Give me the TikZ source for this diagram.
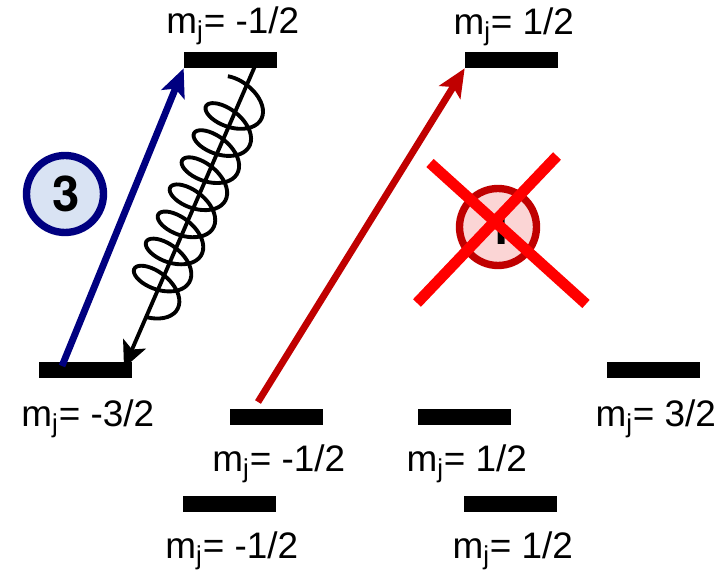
\documentclass[tikz,border=0pt]{standalone}
\usepackage{fontspec}
\setmainfont{Liberation Sans}
\newfontfamily\stepfont{TeX Gyre Heros}
\usetikzlibrary{arrows.meta,positioning}
\definecolor{lineblue}{RGB}{0,0,128}
\definecolor{linered}{RGB}{192,0,0}
\definecolor{fillblue}{RGB}{217,227,243}
\definecolor{fillred}{RGB}{251,213,213}
\tikzset{
  level/.style={
    rectangle,
    fill=black,
    inner sep=0pt,
    minimum width=1.86cm,
    minimum height=0.32cm
  },
  statelabel/.style={
    font=\fontsize{21}{25}\selectfont,
    inner sep=0pt,
    xshift=1.3pt
  },
  stepcircle/.style={
    circle,
    line width=4.2pt,
    minimum size=1.54cm,
    inner sep=0pt,
    font=\fontsize{28}{32}\selectfont\stepfont\bfseries
  },
  pumpblue/.style={-{Stealth[length=16pt,width=14pt,inset=3.5pt]}, line width=3.9pt, lineblue},
  pumpred/.style={-{Stealth[length=16pt,width=14pt,inset=3.5pt]}, line width=3.9pt, linered},
  decay/.style={-{Stealth[length=15pt,width=14pt,inset=3.5pt]}, line width=2.2pt, black},
  cross/.style={line width=6.2pt, red}
}
\begin{document}
\begin{tikzpicture}[x=0.02cm,y=-0.02cm]
\useasboundingbox (0,0) rectangle (716,573);
% excited states
\node[level] (e1) at (230.5,60) {};
\node[level] (e2) at (511.5,60) {};
\node[statelabel, above=3.5pt of e1] (le1) {m\textsubscript{j}= -1/2};
\node[statelabel, above=3pt of e2] (le2) {m\textsubscript{j}= 1/2};
% ground states
\node[level] (g1) at (85.5,370) {};
\node[level] (g2) at (276.5,417) {};
\node[level] (g3) at (464.5,417) {};
\node[level] (g4) at (653.5,370) {};
\node[level] (g5) at (229.5,504) {};
\node[level] (g6) at (510.5,504) {};
\node[statelabel, below=12pt of g1] (lg1) {m\textsubscript{j}= -3/2};
\node[statelabel, below=11pt of g2] (lg2) {m\textsubscript{j}= -1/2};
\node[statelabel, below=11pt of g3] (lg3) {m\textsubscript{j}= 1/2};
\node[statelabel, below=12pt of g4] (lg4) {m\textsubscript{j}= 3/2};
\node[statelabel, below=11pt of g5] (lg5) {m\textsubscript{j}= -1/2};
\node[statelabel, below=11pt of g6] (lg6) {m\textsubscript{j}= 1/2};
% transitions
\coordinate (bluestart) at (62,366);
\coordinate (redstart) at (258,402);
\coordinate (decaystart) at (255,66);
\coordinate (decayend) at (124,368);
\draw[pumpblue] (bluestart) -- (e1.south west);
\draw[pumpred] (redstart) -- (e2.south west);
\draw[decay] (decaystart) -- (decayend);
\draw[line width=2.2pt, black, smooth] plot[domain=-135:2605, samples=300]
  ({236.8-\x/360*11.95+25*cos(\x)-6*sin(\x)},{105.5+\x/360*27.1+12.5*cos(\x)+14.5*sin(\x)});
% step markers
\node[stepcircle, draw=lineblue, fill=fillblue] (s3) at (65,194) {\hspace{1pt}3};
\node[stepcircle, draw=linered, fill=fillred] (s1) at (498,227) {\hspace{3pt}1};
\coordinate (xa) at (430,163);
\coordinate (xb) at (586,304);
\coordinate (xc) at (557,156);
\coordinate (xd) at (417,303);
\draw[cross] (xa) -- (xb);
\draw[cross] (xc) -- (xd);
\end{tikzpicture}
\end{document}
